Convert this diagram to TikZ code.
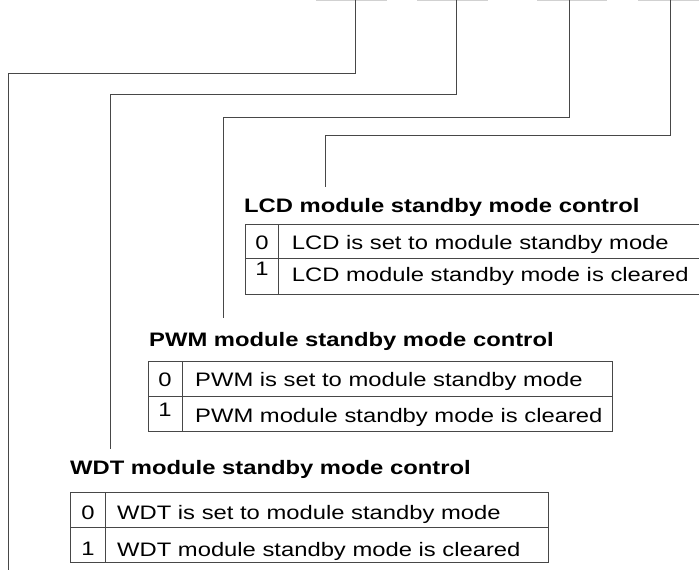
\documentclass[tikz,border=0pt]{standalone}
\usepackage{fontspec}
\setmainfont{Liberation Sans}[FakeStretch=1.22]
\begin{document}
\begin{tikzpicture}[x=1pt,y=-1pt,
  wire/.style={draw=black!72, line width=1pt},
  tbl/.style={draw=black!72, line width=1pt},
  reg/.style={draw=black!18, line width=1.6pt},
  title/.style={anchor=base west, inner sep=0pt, font=\fontsize{19.5}{23}\selectfont\bfseries},
  cell/.style={anchor=base west, inner sep=0pt, font=\fontsize{19.5}{23}\selectfont},
  digit/.style={anchor=base, inner sep=0pt, font=\fontsize{19.5}{23}\selectfont}]
\useasboundingbox (0,0) rectangle (699,570);
\clip (0,0) rectangle (699,570);
\fill[white] (0,0) rectangle (699,570);

% register cell bottoms (cut off at the top)
\draw[reg] (316,0.5) -- (387,0.5);
\draw[reg] (417,0.5) -- (488,0.5);
\draw[reg] (537,0.5) -- (607,0.5);
\draw[reg] (638,0.5) -- (700,0.5);

% bit connectors
\coordinate (s1) at (355,0);   \coordinate (e1) at (8.7,572);
\coordinate (s2) at (456,0);   \coordinate (e2) at (110.7,449);
\coordinate (s3) at (569,0);   \coordinate (e3) at (223.5,318);
\coordinate (s4) at (670.7,0); \coordinate (e4) at (325,187);
\draw[wire] (s1) -- (355,73) -- (8.7,73) -- (e1);
\draw[wire] (s2) -- (456,94.5) -- (110.7,94.5) -- (e2);
\draw[wire] (s3) -- (569,117) -- (223.5,117) -- (e3);
\draw[wire] (s4) -- (670.7,135.7) -- (325,135.7) -- (e4);

% LCD
\node[title] (tlcd) at (244,212) {LCD module standby mode control};
\draw[tbl] (245,224.3) rectangle (705,294.3);
\draw[tbl] (245,258.7) -- (705,258.7);
\draw[tbl] (278.7,224.3) -- (278.7,294.3);
\node[digit] (lcd0) at (262,249.3) {0};
\node[cell] (lcdt0) at (291.7,249.3) {LCD is set to module standby mode};
\node[digit] (lcd1) at (262,275) {1};
\node[cell] (lcdt1) at (291.7,281.7) {LCD module standby mode is cleared};

% PWM
\node[title] (tpwm) at (149,346.7) {PWM module standby mode control};
\draw[tbl] (148.3,361) rectangle (612,431);
\draw[tbl] (148.3,396) -- (612,396);
\draw[tbl] (182.3,361) -- (182.3,431);
\node[digit] (pwm0) at (165,386) {0};
\node[cell] (pwmt0) at (195,386) {PWM is set to module standby mode};
\node[digit] (pwm1) at (165,416.7) {1};
\node[cell] (pwmt1) at (195,422.7) {PWM module standby mode is cleared};

% WDT
\node[title] (twdt) at (70,474) {WDT module standby mode control};
\draw[tbl] (70.7,492) rectangle (548,562.7);
\draw[tbl] (70.7,527.7) -- (548,527.7);
\draw[tbl] (105,492) -- (105,562.7);
\node[digit] (wdt0) at (88,519) {0};
\node[cell] (wdtt0) at (117,519) {WDT is set to module standby mode};
\node[digit] (wdt1) at (88,555) {1};
\node[cell] (wdtt1) at (117,556.5) {WDT module standby mode is cleared};
\end{tikzpicture}
\end{document}
